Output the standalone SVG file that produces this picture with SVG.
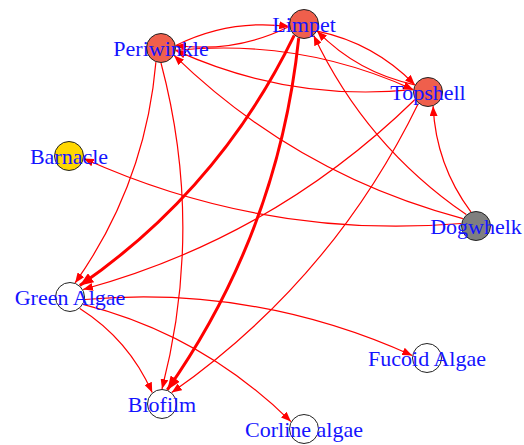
<svg xmlns="http://www.w3.org/2000/svg" width="524" height="445" viewBox="0 0 524 445">
<style>
.e{fill:none;stroke:#ff0000;stroke-width:1.2;marker-end:url(#a)}
.ek{fill:none;stroke:#ff0000;stroke-width:3;marker-end:url(#ak)}
.n{stroke:#222;stroke-width:1}
.t{font-family:"Liberation Serif","Times New Roman",serif;font-size:22px;fill:#1414ff;text-anchor:middle}
</style>
<defs>
<marker id="a" viewBox="0 0 10 8" refX="10" refY="4" markerWidth="10" markerHeight="8" markerUnits="userSpaceOnUse" orient="auto"><path d="M0,0L10,4L0,8z" fill="#ff0000"/></marker>
<marker id="ak" viewBox="0 0 10 8" refX="10" refY="4" markerWidth="14" markerHeight="11" markerUnits="userSpaceOnUse" orient="auto"><path d="M0,0L10,4L0,8z" fill="#ff0000"/></marker>
</defs>
<rect width="524" height="445" fill="#fff"/>
<g id="edges">
<path class="e" d="M175.8,45.5 Q229.6,18.8 289.2,26.5"/>
<path class="e" d="M289.2,26.5 Q235.4,53.2 175.8,45.5"/>
<path class="e" d="M175.8,50.4 Q299.8,38 413.2,89.6"/>
<path class="e" d="M413.2,89.6 Q289.2,102 175.8,50.4"/>
<path class="e" d="M317.2,31.2 Q374.2,43.1 414.8,84.8"/>
<path class="e" d="M414.8,84.8 Q357.8,72.9 317.2,31.2"/>
<path class="e" d="M466.3,214.6 Q365.8,145.6 313.7,35.4"/>
<path class="e" d="M462.9,218.6 Q297.1,174.8 174.1,55.4"/>
<path class="e" d="M470.9,211.9 Q435.9,164.8 433.1,106.1"/>
<path class="e" d="M461.2,223.5 Q264.1,239.8 83.8,158.5"/>
<path class="ek" d="M294.2,35.4 Q219.8,188.6 79.8,285.6"/>
<path class="ek" d="M298.7,38.1 Q278.6,231 167.3,389.9"/>
<path class="e" d="M155.9,62.1 Q145.4,183.4 75.1,282.9"/>
<path class="e" d="M161,63 Q204.2,225.9 162,389"/>
<path class="e" d="M415,99.5 Q273.6,237.5 83,289.5"/>
<path class="e" d="M418.3,103.4 Q332.4,279.9 171.7,392.6"/>
<path class="e" d="M84.8,299.5 Q255.8,284.7 412.2,355.5"/>
<path class="e" d="M83.1,304.4 Q202.8,334.9 290.9,421.6"/>
<path class="e" d="M79.8,308.4 Q128.8,339.5 152.2,392.6"/>
</g>
<g id="limpet"><circle class="n" cx="304" cy="24" r="14.5" fill="#ef5f4c"/><text class="t" x="304" y="32">Limpet</text></g>
<g id="periwinkle"><circle class="n" cx="161" cy="48" r="14.5" fill="#ef5f4c"/><text class="t" x="161" y="56">Periwinkle</text></g>
<g id="topshell"><circle class="n" cx="428" cy="92" r="14.5" fill="#ef5f4c"/><text class="t" x="428" y="100">Topshell</text></g>
<g id="barnacle"><circle class="n" cx="69" cy="156" r="14.5" fill="#ffd700"/><text class="t" x="69" y="164">Barnacle</text></g>
<g id="dogwhelk"><circle class="n" cx="476" cy="226" r="14.5" fill="#7f7f7f"/><text class="t" x="476" y="234">Dogwhelk</text></g>
<g id="green-algae"><circle class="n" cx="70" cy="297" r="14.5" fill="#fff"/><text class="t" x="70" y="305">Green Algae</text></g>
<g id="fucoid-algae"><circle class="n" cx="427" cy="358" r="14.5" fill="#fff"/><text class="t" x="427" y="366">Fucoid Algae</text></g>
<g id="biofilm"><circle class="n" cx="162" cy="404" r="14.5" fill="#fff"/><text class="t" x="162" y="412">Biofilm</text></g>
<g id="corline-algae"><circle class="n" cx="304" cy="429" r="14.5" fill="#fff"/><text class="t" x="304" y="437">Corline algae</text></g>
</svg>
